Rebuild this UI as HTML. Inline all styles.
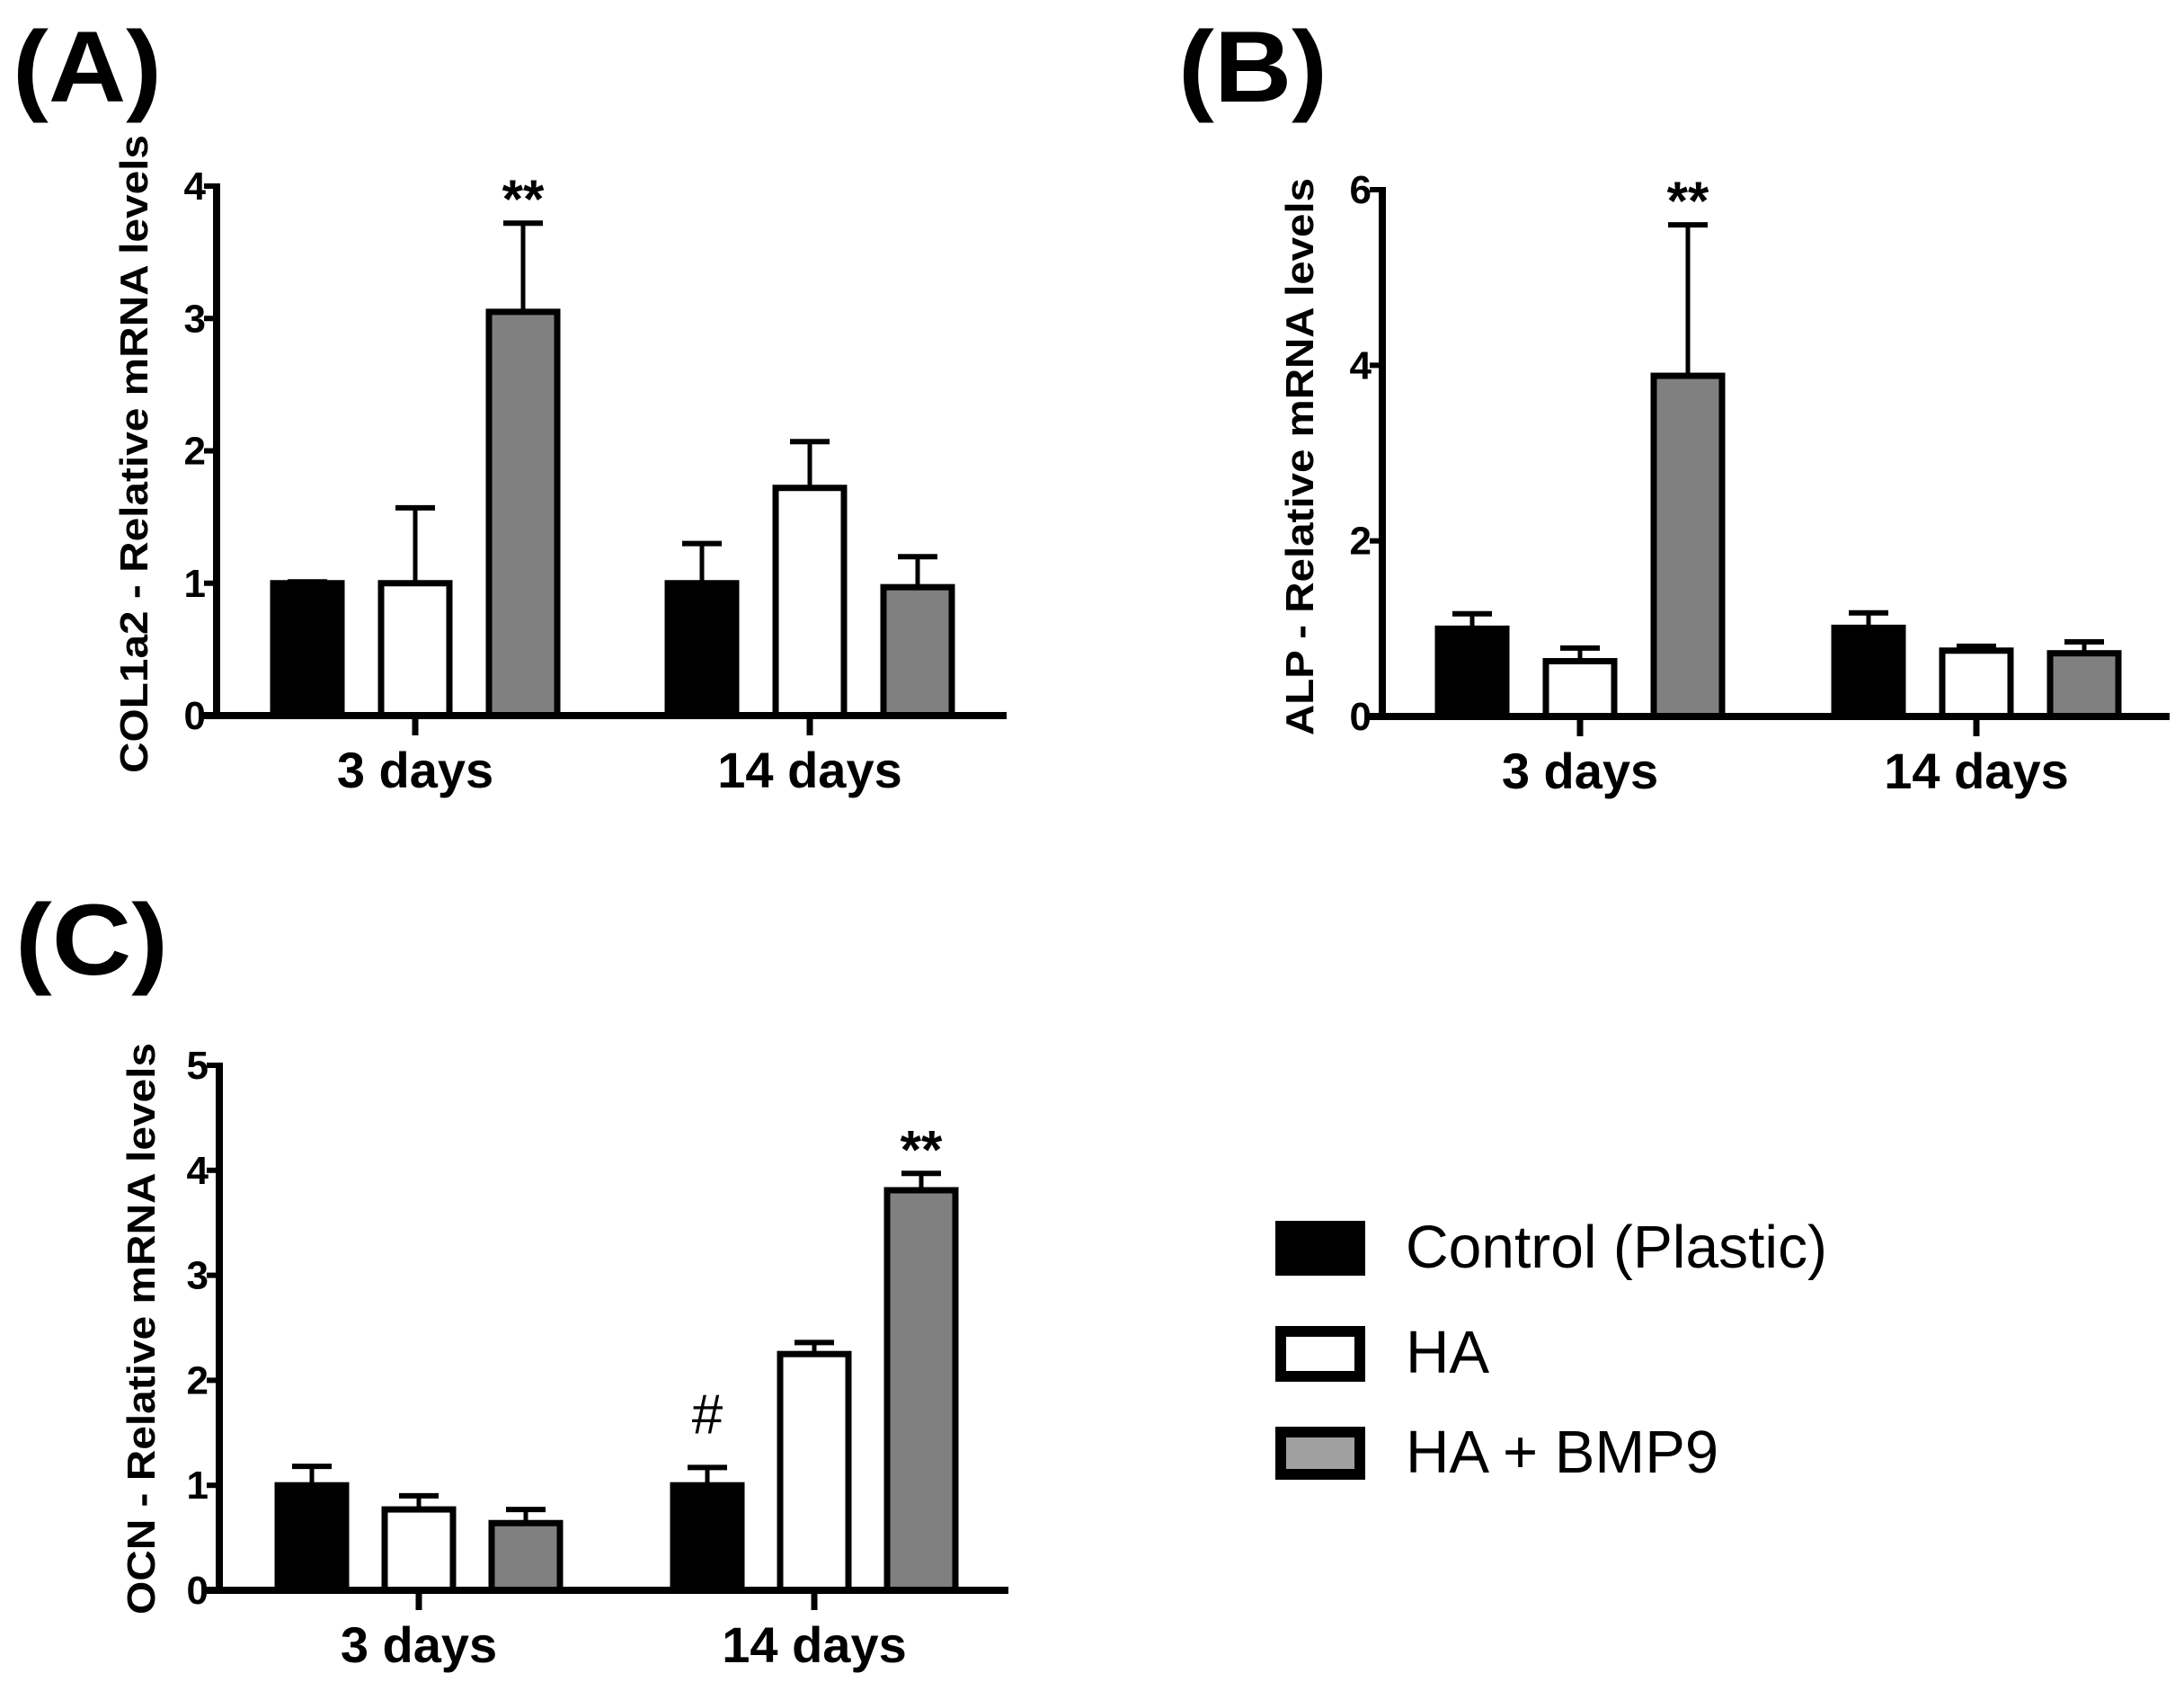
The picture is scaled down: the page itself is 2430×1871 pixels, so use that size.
<!DOCTYPE html>
<html><head><meta charset="utf-8"><style>
html,body{margin:0;padding:0;background:#fff;}
svg{display:block;}
text{font-family:"Liberation Sans",Arial,sans-serif;}
</style></head><body>
<svg id="fig" width="2430" height="1871" viewBox="0 0 2430 1871" xmlns="http://www.w3.org/2000/svg">
<rect width="2430" height="1871" fill="#fff"/>
<text x="14" y="113" font-size="112" font-weight="bold" textLength="166" lengthAdjust="spacingAndGlyphs">(A)</text>
<text x="1311" y="113" font-size="112" font-weight="bold" textLength="166" lengthAdjust="spacingAndGlyphs">(B)</text>
<text x="17" y="1084" font-size="112" font-weight="bold" textLength="170" lengthAdjust="spacingAndGlyphs">(C)</text>
<g>
<rect x="1425" y="1364" width="88" height="49" fill="#000" stroke="#000" stroke-width="12"/>
<text x="1564" y="1410" font-size="67" textLength="469" lengthAdjust="spacingAndGlyphs">Control (Plastic)</text>
<rect x="1425" y="1481" width="88" height="50" fill="#fff" stroke="#000" stroke-width="12"/>
<text x="1564" y="1527" font-size="67">HA</text>
<rect x="1425" y="1593" width="88" height="47" fill="#a0a0a0" stroke="#000" stroke-width="12"/>
<text x="1564" y="1638" font-size="67">HA + BMP9</text>
</g>
</svg>
<script>
const groups = ["3 days", "14 days"];
const colA = [1.0, 1.0, 3.05, 1.0, 1.72, 0.97];
const errA = [1.01, 1.57, 3.72, 1.3, 2.07, 1.2];
const colTicks = [0, 1, 2, 3, 4];
const alpB = [1.0, 0.63, 3.88, 1.01, 0.75, 0.72];
const errB = [1.17, 0.78, 5.6, 1.18, 0.8, 0.85];
const alpTicks = [0, 2, 4, 6];
const ocnC = [1.0, 0.77, 0.64, 1.0, 2.25, 3.81];
const errC = [1.18, 0.9, 0.77, 1.17, 2.36, 3.97];
const ocnTicks = [0, 1, 2, 3, 4, 5];
const marksA = ["", "", "**", "", "", ""];
const marksB = ["", "", "**", "", "", ""];
const marksC = ["", "", "", "#", "", "**"];
const fills = ["#000", "#fff", "#808080"];
const seriesNames = ["control", "ha", "ha-bmp9"];

const NS = "http://www.w3.org/2000/svg";
const svg = document.getElementById("fig");
function mk(tag, attrs, parent) {
  const e = document.createElementNS(NS, tag);
  for (const k in attrs) e.setAttribute(k, attrs[k]);
  (parent || svg).appendChild(e);
  return e;
}

function panel(cfg) {
  const g = mk("g", {});
  
  
  const y = v => cfg.y0 - (v / cfg.max) * (cfg.y0 - cfg.yTop);
  const gx = i => cfg.g0 + i * (cfg.g1 - cfg.g0);
  cfg.vals.forEach((v, i) => {
    const gi = Math.floor(i / 3), si = i % 3;
    const cx = gx(gi) + (si - 1) * cfg.stride;
    const bw = 76;
    const ey = y(cfg.errs[i]);
    const el = mk("line", {x1: cx, x2: cx, y1: y(v), y2: ey, stroke: "#000", "stroke-width": 5}, g);
    
    
    const cap = mk("line", {x1: cx - 22, x2: cx + 22, y1: ey, y2: ey, stroke: "#000", "stroke-width": 6}, g);
    
    
    const r = mk("rect", {x: cx - bw / 2, y: y(v), width: bw, height: cfg.y0 - y(v), fill: fills[si], stroke: "#000", "stroke-width": 7}, g);
    
    
    if (cfg.marks[i]) {
      const isHash = cfg.marks[i] === "#";
      const t = mk("text", {x: cx, y: isHash ? ey - 38 : ey - 6, "font-size": isHash ? 62 : 60, "font-weight": isHash ? "normal" : "bold", "text-anchor": "middle"}, g);
      t.textContent = cfg.marks[i];
      
      
    }
  });
  const ya = mk("line", {x1: cfg.ax, x2: cfg.ax, y1: cfg.yTop - 3, y2: cfg.y0 + 4, stroke: "#000", "stroke-width": 8}, g);
  
  
  const xa = mk("line", {x1: cfg.ax - 14, x2: cfg.xEnd, y1: cfg.y0, y2: cfg.y0, stroke: "#000", "stroke-width": 8}, g);
  
  
  cfg.ticks.forEach(t => {
    const tl = mk("line", {x1: cfg.ax - 14, x2: cfg.ax, y1: y(t), y2: y(t), stroke: "#000", "stroke-width": 6}, g);
    
    
    const tx = mk("text", {x: cfg.ax - 12, y: y(t) + 15, "font-size": 44, "font-weight": "bold", "text-anchor": "end"}, g);
    tx.textContent = t;
    
    
  });
  groups.forEach((name, i) => {
    const tl = mk("line", {x1: gx(i), x2: gx(i), y1: cfg.y0, y2: cfg.y0 + 22, stroke: "#000", "stroke-width": 7}, g);
    
    
    const tx = mk("text", {x: gx(i), y: cfg.y0 + 80, "font-size": 56, "font-weight": "bold", "text-anchor": "middle"}, g);
    tx.textContent = name;
    
    
  });
  const tcx = cfg.titleX, tcy = (cfg.titleTop + cfg.titleBot) / 2;
  const tt = mk("text", {x: tcx, y: tcy, "font-size": 44, "font-weight": "bold", "text-anchor": "middle", transform: "rotate(-90 " + tcx + " " + tcy + ")", textLength: cfg.titleBot - cfg.titleTop, lengthAdjust: "spacingAndGlyphs"}, g);
  tt.textContent = cfg.title;
  
  
}

panel({name: "panel-a-col1a2", vals: colA, errs: errA, ticks: colTicks, marks: marksA, max: 4,
  ax: 241, xEnd: 1120, y0: 796, yTop: 207, g0: 462, g1: 901, stride: 120,
  title: "COL1a2 - Relative mRNA levels", titleX: 164, titleTop: 150, titleBot: 860});
panel({name: "panel-b-alp", vals: alpB, errs: errB, ticks: alpTicks, marks: marksB, max: 6,
  ax: 1538, xEnd: 2414, y0: 797, yTop: 211, g0: 1758, g1: 2199, stride: 120,
  title: "ALP - Relative mRNA levels", titleX: 1461, titleTop: 198, titleBot: 818});
panel({name: "panel-c-ocn", vals: ocnC, errs: errC, ticks: ocnTicks, marks: marksC, max: 5,
  ax: 244, xEnd: 1122, y0: 1769, yTop: 1185, g0: 466, g1: 906, stride: 119,
  title: "OCN - Relative mRNA levels", titleX: 172, titleTop: 1160, titleBot: 1796});
</script>
</body></html>
